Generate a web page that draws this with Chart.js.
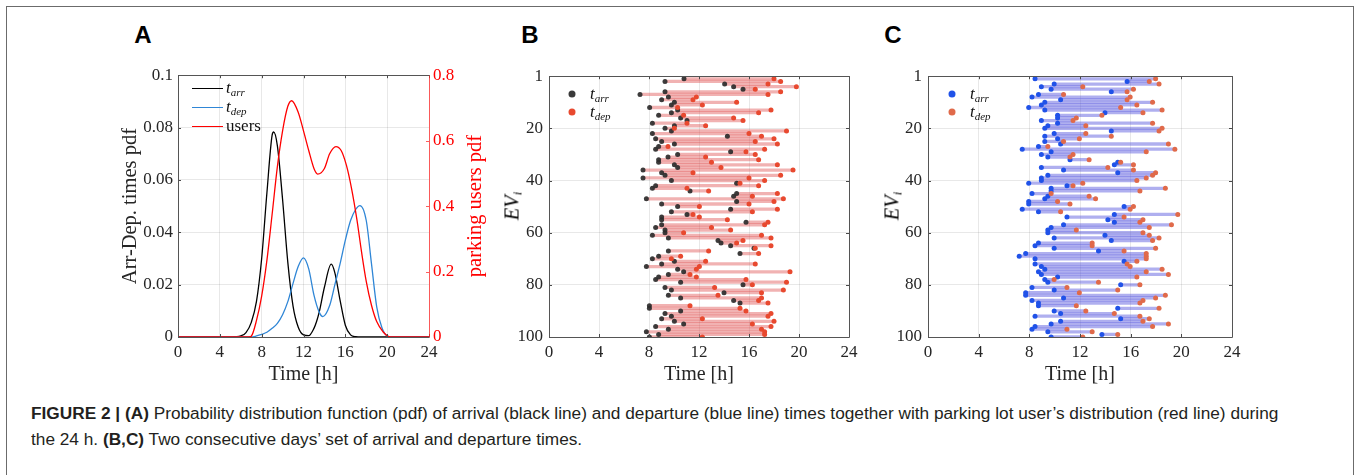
<!DOCTYPE html>
<html><head><meta charset="utf-8">
<script src="https://cdn.jsdelivr.net/npm/chart.js@4.4.1/dist/chart.umd.min.js"></script>
<style>
body{margin:0;width:1356px;height:475px;background:#fff;position:relative;overflow:hidden;font-family:"Liberation Serif",serif}
.frame{position:absolute;left:6px;top:6px;width:1348px;height:520px;border:1.5px solid #6b6b6b;box-sizing:border-box}
canvas{position:absolute}
.letter{position:absolute;font-family:"Liberation Sans",Arial,sans-serif;font-weight:bold;font-size:24px;color:#000;transform:translate(-50%,-50%)}
.lg{position:absolute;font-family:"Liberation Serif",serif;font-size:17px;color:#111;transform:translateY(-50%);white-space:nowrap}
.lg i sub{font-size:11px;vertical-align:-3px}
.lline{position:absolute;width:31px;height:0;border-top:1.4px solid}
.ldot{position:absolute;width:7px;height:7px;border-radius:50%;transform:translate(-50%,-50%)}
.rot{position:absolute;transform:translate(-50%,-50%) rotate(-90deg);white-space:nowrap;font-family:"Liberation Serif",serif;font-size:20.5px}
.rot sub{font-size:13px;vertical-align:-3px}
.cap{position:absolute;left:31px;top:401px;font-family:"Liberation Sans",Arial,sans-serif;font-size:16px;line-height:26px;color:#231f20;white-space:nowrap;transform-origin:0 0}
.cap b{font-weight:bold}
</style></head>
<body>
<div class="frame"></div>
<canvas id="cA" width="408" height="330" style="left:110px;top:60px"></canvas>
<canvas id="cB" width="380" height="330" style="left:490px;top:60px"></canvas>
<canvas id="cC" width="380" height="330" style="left:870px;top:60px"></canvas>

<div class="letter" style="left:143px;top:35px">A</div>
<div class="letter" style="left:530px;top:35px">B</div>
<div class="letter" style="left:893px;top:35px">C</div>

<div class="lline" style="left:192px;top:88px;border-color:#000"></div>
<div class="lg" style="left:226px;top:88px"><i>t<sub>arr</sub></i></div>
<div class="lline" style="left:192px;top:107px;border-color:#2f86d6"></div>
<div class="lg" style="left:226px;top:107px"><i>t<sub>dep</sub></i></div>
<div class="lline" style="left:192px;top:126px;border-color:#ff0000"></div>
<div class="lg" style="left:226px;top:126px">users</div>

<div class="ldot" style="left:572px;top:94px;background:#3a3a3a"></div>
<div class="lg" style="left:590px;top:94px"><i>t<sub>arr</sub></i></div>
<div class="ldot" style="left:572px;top:112px;background:#e8492f"></div>
<div class="lg" style="left:590px;top:112px"><i>t<sub>dep</sub></i></div>

<div class="ldot" style="left:952px;top:94px;background:#2052e8"></div>
<div class="lg" style="left:970px;top:94px"><i>t<sub>arr</sub></i></div>
<div class="ldot" style="left:952px;top:112px;background:#e06a4a"></div>
<div class="lg" style="left:970px;top:112px"><i>t<sub>dep</sub></i></div>

<div class="rot" style="left:474px;top:206px;color:#ff0000">parking users pdf</div>
<div class="rot" style="left:513px;top:206px"><i>EV<sub>i</sub></i></div>
<div class="rot" style="left:893px;top:206px"><i>EV<sub>i</sub></i></div>

<div class="cap" id="cap">
<div id="capl1"><b>FIGURE 2 | (A)</b> Probability distribution function (pdf) of arrival (black line) and departure (blue line) times together with parking lot user’s distribution (red line) during</div>
<div>the 24 h. <b>(B,C)</b> Two consecutive days’ set of arrival and departure times.</div>
</div>

<script>
// ---------- Panel A data ----------
const hoursArr=[0,5,5.5,6,6.5,7,7.5,8,8.5,9,9.15,9.5,10,10.5,11,11.5,12,12.5,13,13.25,13.5,14,14.65,15,15.5,16,16.5,17,17.5,24];
const arrPdf=[0,0,0.0001,0.0004,0.0017,0.0055,0.0135,0.030,0.055,0.0771,0.0783,0.0731,0.0525,0.0285,0.0118,0.0037,0.0008,0.0005,0.0033,0.0059,0.0095,0.019,0.0278,0.0245,0.014,0.0045,0.0008,0.0001,0,0];
const hoursDep=[0,7,7.5,8,8.5,9,9.5,10,10.5,11,11.5,12,12.5,13,13.5,13.85,14.5,15,15.5,16,16.5,17,17.4,18,18.5,19,19.5,20,20.5,24];
const depPdf=[0,0,0.0004,0.001,0.0018,0.0033,0.0052,0.0085,0.0135,0.0205,0.027,0.0302,0.026,0.016,0.0095,0.0078,0.012,0.020,0.028,0.037,0.0445,0.0488,0.0502,0.0445,0.028,0.0115,0.0035,0.0004,0,0];
const hoursUsers=[0,6.8,7,7.5,8,8.5,9,9.5,10,10.5,10.87,11.5,12,12.5,13,13.35,14,14.5,15.1,15.6,16.1,16.6,17.1,17.55,18,18.5,19,19.6,20.1,20.5,24];
const usersPdf=[0,0,0.002,0.05,0.125,0.234,0.375,0.52,0.63,0.705,0.722,0.686,0.63,0.57,0.515,0.498,0.515,0.56,0.582,0.57,0.525,0.453,0.36,0.26,0.17,0.097,0.047,0.016,0.002,0,0];
const timeTicks=[0,4,8,12,16,20,24];

// ---------- Panel B data (hours) ----------
const arrB=[10.8,9.28,14.05,14.77,15.52,9.28,7.28,9.55,9.01,10.03,9.79,8.05,10.29,9.79,8.77,10.53,11.04,8.27,10.03,9.28,
9.79,8.27,14.27,8.53,9.01,10.03,8.77,8.53,14.53,10.29,9.52,8.77,8.77,10.03,10.29,7.52,9.01,9.28,7.52,9.79,
15.01,8.53,8.27,11.28,15.01,14.77,7.79,15.01,9.01,10.29,14.53,9.79,11.04,9.01,9.01,15.76,9.01,8.53,9.28,9.28,
8.27,9.55,13.52,13.76,14.53,16.4,9.55,15.28,8.77,8.27,10.03,9.01,7.79,10.29,10.77,9.55,8.77,8.53,10.53,15.52,
9.28,9.79,14.0,9.55,10.53,14.77,15.28,8.03,8.03,10.53,9.28,9.79,9.01,10.03,10.77,8.53,9.55,7.79,8.77,8.03];
const depB=[18.0,18.53,17.52,19.79,16.5,18.53,17.52,11.79,11.52,15.01,12.27,10.29,17.76,16.77,10.77,14.77,15.52,11.04,12.53,10.03,
19.0,16.0,17.0,18.0,16.5,18.27,9.52,17.25,15.76,16.5,12.53,16.77,13.0,18.27,13.76,19.52,11.52,18.53,16.0,17.25,
15.28,16.77,11.04,12.77,18.27,16.27,18.75,18.0,16.0,12.03,18.27,16.27,11.52,12.03,14.27,17.52,17.25,13.0,14.53,10.77,
17.0,17.76,15.52,15.01,17.76,16.5,12.77,16.77,10.53,9.79,12.53,16.5,12.03,11.79,19.28,11.28,11.79,15.76,19.0,16.27,
13.25,18.75,17.0,13.52,17.0,16.77,17.52,11.28,15.28,15.76,17.76,17.52,12.27,18.0,16.27,17.76,17.0,17.25,17.25,12.27];

// ---------- Panel C data (hours) ----------
const arrC=[8.45,15.72,9.96,8.95,9.72,14.47,8.72,8.21,10.47,9.22,8.95,7.95,9.22,13.97,10.23,10.23,8.95,10.23,9.46,9.22,
14.47,9.96,9.22,10.23,9.22,10.47,8.72,7.44,9.72,8.95,9.46,11.21,14.98,14.71,8.95,10.7,14.98,9.46,8.95,8.95,
7.95,10.97,9.72,9.72,8.21,9.46,9.22,7.95,7.95,15.48,7.44,8.72,14.71,10.97,14.2,14.71,10.7,9.72,9.46,9.46,
13.97,9.96,14.47,8.72,8.45,9.96,13.46,7.71,7.2,8.45,15.48,8.45,8.95,9.22,8.72,8.95,10.23,9.22,9.46,15.21,
8.21,9.96,7.71,7.71,10.7,8.21,8.72,8.72,14.98,9.96,10.47,8.45,15.21,10.47,9.72,8.45,8.21,9.46,13.73,9.72];
const depC=[17.97,17.47,18.24,12.22,16.22,15.72,10.7,15.96,15.72,17.73,16.49,15.21,18.48,16.97,13.73,11.71,11.45,17.73,12.46,18.48,
18.24,12.46,14.47,11.95,10.7,18.98,9.46,19.49,17.23,11.45,11.21,12.72,15.21,16.22,14.2,16.22,17.97,17.73,17.23,16.49,
12.22,11.45,18.74,16.73,9.72,12.72,13.23,10.23,11.21,16.22,15.96,10.47,19.72,15.48,16.97,16.73,19.22,17.47,11.71,16.97,
17.47,18.24,17.73,12.96,12.96,17.97,15.48,17.23,17.23,17.23,16.49,15.72,15.96,18.48,17.23,18.98,16.49,9.96,13.46,16.73,
10.97,14.98,11.95,18.74,17.97,16.97,16.73,11.71,18.24,12.46,14.71,16.73,17.47,16.97,18.98,17.73,10.97,12.96,14.98,12.22];
const evIndex=Array.from({length:100},(_,i)=>i+1);
const evTicks=[0,20,40,60,80,100];

// ---------- helpers ----------
const TICKC='#262626', GRIDC='rgba(0,0,0,0.09)';
const tickFont={family:'"Liberation Serif", serif',size:17};
const titleFont={family:'"Liberation Serif", serif',size:20};

const boxPlugin={id:'box',afterDraw(chart,args,o){
  const {ctx,chartArea:a,scales}=chart;
  ctx.save();
  ctx.lineWidth=1;
  ctx.strokeStyle='#4a4a4a';
  const xs=scales.x;
  xs.ticks.forEach(t=>{const p=Math.round(xs.getPixelForValue(t.value))+0.5;
    ctx.beginPath();ctx.moveTo(p,a.bottom);ctx.lineTo(p,a.bottom-3);ctx.moveTo(p,a.top);ctx.lineTo(p,a.top+3);ctx.stroke();});
  const ys=scales.y;
  ys.ticks.forEach(t=>{const p=Math.round(ys.getPixelForValue(t.value))+0.5;
    ctx.beginPath();ctx.moveTo(a.left,p);ctx.lineTo(a.left+3,p);
    if(!o.rightColor){ctx.moveTo(a.right,p);ctx.lineTo(a.right-3,p);}ctx.stroke();});
  if(o.rightColor&&scales.y2){const s=scales.y2;ctx.strokeStyle=o.rightColor;
    s.ticks.forEach(t=>{const p=Math.round(s.getPixelForValue(t.value))+0.5;
      ctx.beginPath();ctx.moveTo(a.right,p);ctx.lineTo(a.right-3,p);ctx.stroke();});}
  const L=Math.round(a.left)+0.5,R=Math.round(a.right)+0.5,T=Math.round(a.top)+0.5,B=Math.round(a.bottom)+0.5;
  ctx.strokeStyle='#555';
  ctx.beginPath();ctx.moveTo(R,T);ctx.lineTo(L,T);ctx.lineTo(L,B);ctx.lineTo(R,B);
  if(!o.rightColor)ctx.lineTo(R,T);
  ctx.stroke();
  if(o.rightColor){ctx.strokeStyle=o.rightColor;ctx.beginPath();ctx.moveTo(R,T);ctx.lineTo(R,B);ctx.stroke();}
  ctx.restore();
}};

function xScale(){
  return {type:'linear',min:0,max:24,offset:false,
    afterBuildTicks:s=>{s.ticks=timeTicks.map(v=>({value:v}));},
    ticks:{color:TICKC,font:tickFont,padding:5,maxRotation:0,autoSkip:false},
    grid:{color:GRIDC,drawTicks:false,offset:false},border:{display:false},
    title:{display:true,text:'Time [h]',color:TICKC,font:titleFont,padding:{top:0,bottom:3}},
    afterFit:s=>{s.height=53;}};
}

// ---------- Chart A ----------
const pts=(xs,ys)=>xs.map((x,i)=>({x:x,y:ys[i]}));
new Chart(document.getElementById('cA'),{
  type:'line',
  data:{datasets:[
    {label:'t_arr',data:pts(hoursArr,arrPdf),borderColor:'#000000',yAxisID:'y',order:2},
    {label:'t_dep',data:pts(hoursDep,depPdf),borderColor:'#2f86d6',yAxisID:'y',order:1},
    {label:'users',data:pts(hoursUsers,usersPdf),borderColor:'#ff0000',yAxisID:'y2',order:0}
  ]},
  options:{responsive:false,animation:false,devicePixelRatio:1,
    elements:{point:{radius:0},line:{borderWidth:1.3,tension:0.4,cubicInterpolationMode:'monotone'}},
    plugins:{legend:{display:false},tooltip:{enabled:false},box:{rightColor:'rgba(255,40,40,0.75)'}},
    layout:{padding:{top:14,left:0,right:0,bottom:0}},
    scales:{
      x:xScale(),
      y:{type:'linear',position:'left',min:0,max:0.1,
        ticks:{stepSize:0.02,color:TICKC,font:tickFont,padding:5,callback:v=>String(+v.toFixed(3))},
        grid:{color:GRIDC,drawTicks:false},border:{display:false},
        title:{display:true,text:'Arr-Dep. times pdf',color:TICKC,font:{family:'"Liberation Serif", serif',size:20.5},padding:{top:8,bottom:0}},
        afterFit:s=>{s.width=68;}},
      y2:{type:'linear',position:'right',min:0,max:0.8,
        ticks:{stepSize:0.2,color:'#ff0000',font:tickFont,padding:4,callback:v=>String(+v.toFixed(2))},
        grid:{display:false,drawTicks:false},border:{display:false},
        afterFit:s=>{s.width=89;}}
    }},
  plugins:[boxPlugin]
});

// ---------- Charts B & C ----------
function evChart(id,arr,dep,barColor,arrColor,depColor,rightPad){
  return new Chart(document.getElementById(id),{
    type:'scatter',
    data:{datasets:[
      {type:'scatter',label:'t_dep',data:pts(dep,evIndex),backgroundColor:depColor,borderWidth:0,pointRadius:2.5,order:0},
      {type:'scatter',label:'t_arr',data:pts(arr,evIndex),backgroundColor:arrColor,borderWidth:0,pointRadius:2.5,order:1},
      {type:'bar',indexAxis:'y',label:'stay',data:evIndex.map((r,i)=>({y:r,x:[arr[i],dep[i]]})),
        backgroundColor:barColor,borderWidth:0,barPercentage:1,categoryPercentage:1,order:2}
    ]},
    options:{responsive:false,animation:false,devicePixelRatio:1,
      plugins:{legend:{display:false},tooltip:{enabled:false},box:{}},
      layout:{padding:{top:14.3,left:0,right:rightPad,bottom:0}},
      scales:{
        x:xScale(),
        y:{type:'linear',position:'left',min:0,max:100,reverse:true,offset:false,
          afterBuildTicks:s=>{s.ticks=evTicks.map(v=>({value:v}));},
          ticks:{color:TICKC,font:tickFont,padding:6,callback:v=>v===0?'1':String(v)},
          grid:{color:GRIDC,drawTicks:false,offset:false},border:{display:false},
          afterFit:s=>{s.width=id==='cB'?59:58;}}
      }},
    plugins:[boxPlugin]
  });
}
evChart('cB',arrB,depB,'rgba(222,72,72,0.42)','rgba(45,45,45,0.92)','#e8492f',21);
evChart('cC',arrC,depC,'rgba(88,88,222,0.48)','#2052e8','#e06a4a',18);

// caption width fit
(function(){const cap=document.getElementById('cap');const l1=document.getElementById('capl1');
  const w=l1.scrollWidth;const target=1247;cap.style.transform='scaleX('+(target/w)+')';})();
</script>
</body></html>
